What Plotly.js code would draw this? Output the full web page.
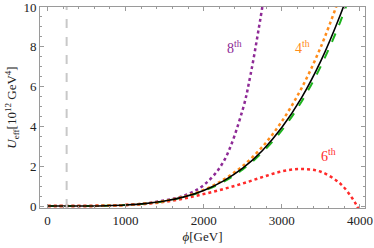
<!DOCTYPE html>
<html>
<head>
<meta charset="utf-8">
<script src="https://cdn.plot.ly/plotly-3.0.1.min.js"></script>
<style>html,body{margin:0;padding:0;background:#fff;}#chart{width:374px;height:248px;}</style>
</head>
<body>
<div id="chart"></div>
<script>
// Field values phi [GeV]
const phiFull = [0, 250, 500, 750, 1000, 1250, 1500, 1750, 2000, 2250, 2500, 2750, 3000, 3250, 3500, 3750, 3850];
const uFull   = [0, 0.0002, 0.003, 0.015, 0.049, 0.12, 0.25, 0.46, 0.78, 1.25, 1.90, 2.78, 3.94, 5.42, 7.29, 9.61, 10.7];

const phiGreen = [0, 250, 500, 750, 1000, 1250, 1500, 1750, 2000, 2250, 2500, 2750, 3000, 3250, 3500, 3750, 3900];
const uGreen   = [0, 0.0002, 0.003, 0.015, 0.048, 0.118, 0.245, 0.45, 0.76, 1.21, 1.84, 2.69, 3.80, 5.23, 7.03, 9.27, 10.9];

const phi4 = [0, 250, 500, 750, 1000, 1250, 1500, 1750, 2000, 2250, 2500, 2750, 3000, 3250, 3500, 3750];
const u4   = [0, 0.0002, 0.003, 0.015, 0.05, 0.122, 0.255, 0.47, 0.81, 1.31, 2.01, 2.97, 4.25, 5.90, 8.0, 10.6];

const phi6 = [0, 250, 500, 750, 1000, 1250, 1500, 1750, 2000, 2250, 2500, 2750, 3000, 3250, 3500, 3750, 3900, 3960, 4020];
const u6   = [0, 0.0002, 0.003, 0.015, 0.047, 0.105, 0.21, 0.38, 0.60, 0.85, 1.13, 1.45, 1.74, 1.86, 1.72, 1.12, 0.40, 0.02, -0.5];

const phi8 = [0, 250, 500, 750, 1000, 1250, 1500, 1750, 2000, 2250, 2500, 2600, 2700, 2800];
const u8   = [0, 0.0002, 0.003, 0.016, 0.052, 0.13, 0.28, 0.52, 1.05, 2.2, 4.85, 6.6, 8.8, 11.2];

const vev = 246;
const labels = [
  {text: '8<sup>th</sup>', x: 2390, y: 8.0, color: '#8e2a96'},
  {text: '4<sup>th</sup>', x: 3265, y: 8.0, color: '#ff8c1a'},
  {text: '6<sup>th</sup>', x: 3600, y: 2.55, color: '#ff2a2a'}
];

const lineShape = {shape: 'spline', smoothing: 1};
const traces = [
  {x: phi8, y: u8, mode: 'lines', line: Object.assign({color: '#8e2a96', width: 2.5, dash: 'dot'}, lineShape)},
  {x: phi6, y: u6, mode: 'lines', line: Object.assign({color: '#ff2a2a', width: 2.5, dash: 'dot'}, lineShape)},
  {x: phiGreen, y: uGreen, mode: 'lines', line: Object.assign({color: '#1db31d', width: 2, dash: 'dash'}, lineShape)},
  {x: phi4, y: u4, mode: 'lines', line: Object.assign({color: '#ff8c1a', width: 2.5, dash: 'dot'}, lineShape)},
  {x: phiFull, y: uFull, mode: 'lines', line: Object.assign({color: '#000000', width: 1.6}, lineShape)}
];

const font = {family: 'Liberation Serif, Times New Roman, serif', size: 13, color: '#222'};
const axisCommon = {
  showgrid: false, zeroline: false, showline: true, linecolor: '#9a9a9a', linewidth: 1,
  mirror: 'ticks', ticks: 'inside', ticklen: 4, tickcolor: '#9a9a9a', tickwidth: 1,
  ticklabeloverflow: 'allow',
  tickfont: {family: font.family, size: 13, color: '#222'}
};
const layout = {
  width: 374, height: 248,
  margin: {l: 40, r: 9, t: 7, b: 40},
  paper_bgcolor: '#fff', plot_bgcolor: '#fff',
  showlegend: false,
  font: font,
  xaxis: Object.assign({}, axisCommon, {
    range: [-95, 4065], tickvals: [0, 1000, 2000, 3000, 4000],
    minor: {dtick: 200, tick0: 0, ticks: 'inside', ticklen: 2, tickcolor: '#9a9a9a'},
    title: {text: '<i>ϕ</i>[GeV]', font: {family: font.family, size: 13, color: '#222'}, standoff: 5}
  }),
  yaxis: Object.assign({}, axisCommon, {
    range: [-0.1, 10], tickvals: [0, 2, 4, 6, 8, 10],
    minor: {dtick: 0.5, tick0: 0, ticks: 'inside', ticklen: 2, tickcolor: '#9a9a9a'},
    title: {text: '<i>U</i><sub>eff</sub>[10<sup>12</sup> GeV<sup>4</sup>]', font: {family: font.family, size: 13, color: '#222'}, standoff: 3}
  }),
  shapes: [{type: 'line', xref: 'x', yref: 'paper', x0: vev, x1: vev, y0: 0, y1: 1,
            line: {color: '#c8c8c8', width: 2, dash: 'dash'}}],
  annotations: labels.map(l => ({x: l.x, y: l.y, xref: 'x', yref: 'y', text: l.text, showarrow: false,
    font: {family: font.family, size: 14, color: l.color}}))
};
Plotly.newPlot('chart', traces, layout, {displayModeBar: false, staticPlot: true});
</script>
</body>
</html>
